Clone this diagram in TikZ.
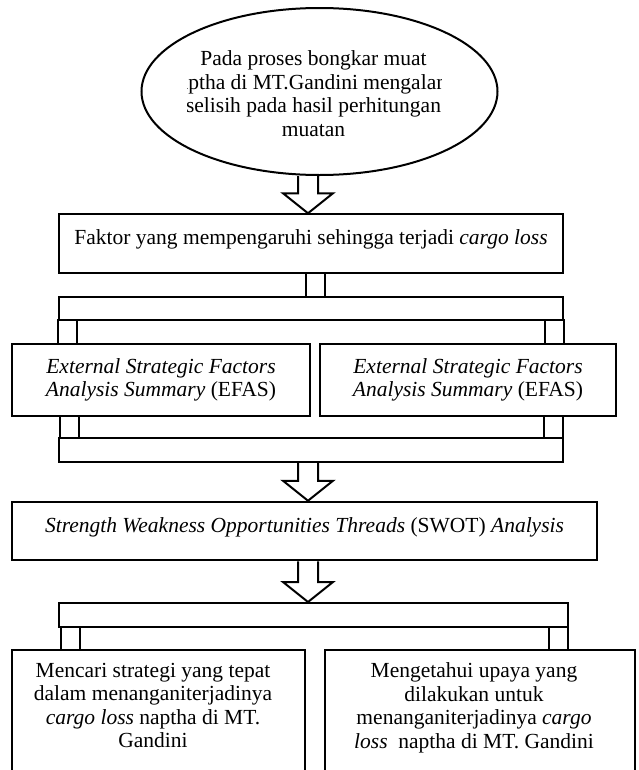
\documentclass[tikz,border=0pt]{standalone}
\usepackage{fontspec}
\setmainfont{Liberation Serif}
\usepackage{tikz}
\usetikzlibrary{shapes.geometric, calc}

\begin{document}
\begin{tikzpicture}[x=0.6pt, y=-0.6pt, line width=1.2pt,
    every node/.style={font=\fontsize{12.9}{14.1}\selectfont},
    kotak/.style={draw, rectangle, inner sep=0pt, align=center},
    isi/.style={text height=18.3pt, text depth=16.8pt},
    sambung/.style={draw, rectangle, inner sep=0pt, minimum width=19*0.6pt},
    panah/.style={line join=miter}]
    \useasboundingbox (0,0) rectangle (639,770);
    \clip (0,0) rectangle (639,770);

    \node[draw, ellipse, inner sep=0pt, minimum width=356*0.6pt, minimum height=167*0.6pt] (masalah) at (319.5,91.5) {};
    \begin{scope}
        \clip (187,40) rectangle (441,150);
        \node[anchor=north, align=center, inner sep=0pt] (masalahteks) at (313.5,50) {Pada proses bongkar muat\\ naptha di MT.Gandini mengalami\\ selisih pada hasil perhitungan\\ muatan};
    \end{scope}

    \node[kotak, isi, minimum width=504*0.6pt] (faktor) at (311,243.5) {Faktor yang mempengaruhi sehingga terjadi \textit{cargo loss}};
    \node[sambung, minimum height=24*0.6pt] (kecil0) at (315.5,285) {};
    \node[kotak, minimum width=504*0.6pt, minimum height=23*0.6pt] (batang1) at (311,308.5) {};
    \node[sambung, minimum height=24*0.6pt] (kecil1L) at (67.5,332) {};
    \node[sambung, minimum height=24*0.6pt] (kecil1R) at (554,332) {};

    \node[kotak, minimum width=298*0.6pt, minimum height=72*0.6pt] (efas1) at (161,380) {\textit{External Strategic Factors}\\ \textit{Analysis Summary} (EFAS)};
    \node[kotak, minimum width=296*0.6pt, minimum height=72*0.6pt] (efas2) at (468,380) {\textit{External Strategic Factors}\\ \textit{Analysis Summary} (EFAS)};

    \node[sambung, minimum height=22*0.6pt] (kecil2L) at (69,427) {};
    \node[sambung, minimum height=22*0.6pt] (kecil2R) at (553,427) {};
    \node[kotak, minimum width=504*0.6pt, minimum height=24*0.6pt] (batang2) at (311,450) {};

    \node[kotak, isi, minimum width=585*0.6pt] (swot) at (304.5,531) {\textit{Strength Weakness Opportunities Threads} (SWOT) \textit{Analysis}};

    \node[kotak, minimum width=509*0.6pt, minimum height=24*0.6pt] (batang3) at (313.5,615) {};
    \node[sambung, minimum height=23*0.6pt] (kecil3L) at (70,638.5) {};
    \node[sambung, minimum height=23*0.6pt] (kecil3R) at (558.5,638.5) {};

    \node[kotak, minimum width=293*0.6pt, minimum height=150*0.6pt] (tujuan1) at (158.5,725) {};
    \node[kotak, minimum width=310*0.6pt, minimum height=150*0.6pt] (tujuan2) at (480,725) {};
    \node[anchor=north, align=center, inner sep=0pt] (tujuan1teks) at (153,662) {Mencari strategi yang tepat\\ dalam menanganiterjadinya\\ \textit{cargo loss} naptha di MT.\\ Gandini};
    \node[anchor=north, align=center, inner sep=0pt] (tujuan2teks) at (474,662) {Mengetahui upaya yang\\ dilakukan untuk\\ menanganiterjadinya \textit{cargo}\\ \textit{loss}\ \ naptha di MT. Gandini};

    \coordinate (sumbu) at (308,0);
    \foreach \dari/\ke in {masalah/faktor, batang2/swot, swot/batang3}{
        \coordinate (a) at (\dari.south -| sumbu);
        \coordinate (b) at (\ke.north -| sumbu);
        \draw[panah] ($(a)+(-10,0)$) -- ($(b)+(-10,-20)$) -- ($(b)+(-25,-20)$) -- (b)
            -- ($(b)+(25,-20)$) -- ($(b)+(10,-20)$) -- ($(a)+(10,0)$);
    }
\end{tikzpicture}
\end{document}
